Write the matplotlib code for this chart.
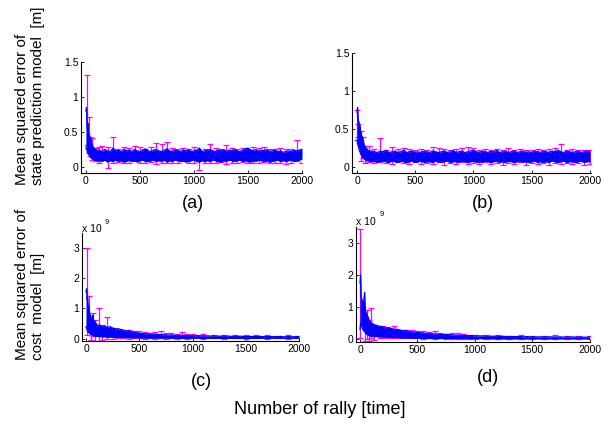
import numpy as np
import matplotlib
matplotlib.use("Agg")
import matplotlib.pyplot as plt

RALLY = np.concatenate([np.arange(0, 101, 5), np.arange(125, 2001, 25)])

# The blue mean curve is very noisy; at each sample position the lowest and
# highest value it reaches nearby are kept.  Magenta error bars are listed
# where they stick out of the blue band: rally, lower end, upper end.

# (a) state prediction model, setting 1  [m]
LO_A = [
    0.28, 0.25, 0.24, 0.20, 0.22, 0.18, 0.19, 0.15, 0.16, 0.13, 0.14,
    0.12, 0.12, 0.11, 0.11, 0.10, 0.10, 0.09, 0.10, 0.09, 0.09,
    0.09, 0.08, 0.10, 0.07, 0.09, 0.08, 0.10, 0.08, 0.09, 0.07,
    0.08, 0.10, 0.08, 0.09, 0.07, 0.09, 0.10, 0.08, 0.08, 0.09,
    0.10, 0.08, 0.09, 0.08, 0.10, 0.07, 0.09, 0.08, 0.10, 0.09,
    0.08, 0.09, 0.07, 0.08, 0.09, 0.10, 0.08, 0.07, 0.09, 0.08,
    0.09, 0.08, 0.10, 0.09, 0.08, 0.07, 0.09, 0.08, 0.10, 0.09,
    0.08, 0.09, 0.10, 0.08, 0.09, 0.08, 0.07, 0.09, 0.08, 0.10,
    0.09, 0.08, 0.09, 0.07, 0.08, 0.09, 0.10, 0.08, 0.09, 0.08,
    0.09, 0.10, 0.08, 0.09, 0.10, 0.11,
]
HI_A = [
    0.80, 0.85, 0.62, 0.50, 0.62, 0.42, 0.46, 0.36, 0.43, 0.32, 0.40,
    0.28, 0.33, 0.26, 0.28, 0.25, 0.27, 0.24, 0.25, 0.24, 0.24,
    0.24, 0.22, 0.25, 0.23, 0.22, 0.27, 0.23, 0.24, 0.22, 0.25,
    0.23, 0.24, 0.22, 0.25, 0.23, 0.22, 0.24, 0.26, 0.23, 0.22,
    0.24, 0.25, 0.23, 0.22, 0.24, 0.26, 0.23, 0.22, 0.25, 0.23,
    0.22, 0.24, 0.23, 0.25, 0.22, 0.23, 0.24, 0.27, 0.22, 0.23,
    0.24, 0.25, 0.23, 0.22, 0.24, 0.23, 0.25, 0.22, 0.24, 0.23,
    0.25, 0.23, 0.22, 0.24, 0.26, 0.27, 0.24, 0.23, 0.25, 0.22,
    0.24, 0.23, 0.25, 0.22, 0.23, 0.24, 0.22, 0.23, 0.21, 0.22,
    0.23, 0.22, 0.24, 0.23, 0.24, 0.25,
]
EB_X_A = [5, 25, 40, 60, 90, 125, 150, 200, 250, 300, 350, 400, 450, 500, 550,
          600, 650, 700, 750, 800, 850, 900, 950, 1000, 1050, 1100, 1150, 1200,
          1250, 1300, 1350, 1400, 1450, 1500, 1550, 1600, 1650, 1700, 1750,
          1800, 1850, 1900, 1950, 2000]
EB_LO_A = [0.32, 0.20, 0.15, 0.10, 0.08, 0.06, 0.10, -0.02, 0.05, 0.07, 0.06,
           0.05, 0.08, 0.05, 0.06, 0.07, 0.04, 0.05, 0.06, 0.05, 0.06, 0.08,
           0.05, 0.06, -0.05, 0.05, 0.06, 0.05, 0.07, 0.04, 0.06, 0.05, 0.07,
           0.05, 0.06, 0.05, 0.07, 0.05, 0.06, 0.05, 0.04, 0.06, 0.08, 0.06]
EB_HI_A = [1.31, 0.71, 0.43, 0.42, 0.27, 0.29, 0.30, 0.28, 0.43, 0.26, 0.28,
           0.27, 0.30, 0.29, 0.25, 0.28, 0.34, 0.33, 0.35, 0.27, 0.25, 0.27,
           0.26, 0.29, 0.22, 0.25, 0.33, 0.27, 0.25, 0.32, 0.27, 0.25, 0.27,
           0.26, 0.29, 0.27, 0.28, 0.26, 0.25, 0.27, 0.25, 0.26, 0.38, 0.25]

# (b) state prediction model, setting 2  [m]
LO_B = [
    0.35, 0.30, 0.28, 0.25, 0.22, 0.20, 0.18, 0.16, 0.15, 0.14, 0.12,
    0.12, 0.11, 0.10, 0.10, 0.09, 0.09, 0.08, 0.09, 0.08, 0.08,
    0.07, 0.08, 0.06, 0.07, 0.08, 0.07, 0.06, 0.08, 0.07, 0.06,
    0.08, 0.07, 0.06, 0.07, 0.08, 0.06, 0.07, 0.08, 0.06, 0.07,
    0.07, 0.06, 0.08, 0.07, 0.06, 0.07, 0.08, 0.06, 0.07, 0.07,
    0.06, 0.08, 0.07, 0.06, 0.07, 0.08, 0.06, 0.07, 0.06, 0.08,
    0.07, 0.06, 0.07, 0.08, 0.06, 0.07, 0.06, 0.08, 0.07, 0.06,
    0.07, 0.08, 0.06, 0.07, 0.06, 0.07, 0.08, 0.06, 0.07, 0.06,
    0.07, 0.06, 0.08, 0.07, 0.06, 0.07, 0.08, 0.06, 0.07, 0.07,
    0.06, 0.07, 0.08, 0.06, 0.07, 0.07,
]
HI_B = [
    0.72, 0.78, 0.62, 0.60, 0.55, 0.55, 0.48, 0.45, 0.40, 0.40, 0.35,
    0.34, 0.30, 0.28, 0.27, 0.26, 0.25, 0.24, 0.22, 0.22, 0.21,
    0.21, 0.20, 0.19, 0.21, 0.20, 0.22, 0.19, 0.20, 0.21, 0.19,
    0.20, 0.22, 0.19, 0.20, 0.21, 0.19, 0.20, 0.19, 0.21, 0.20,
    0.19, 0.21, 0.20, 0.19, 0.20, 0.21, 0.19, 0.20, 0.22, 0.19,
    0.20, 0.21, 0.19, 0.20, 0.21, 0.22, 0.20, 0.19, 0.21, 0.20,
    0.19, 0.21, 0.20, 0.22, 0.19, 0.20, 0.21, 0.19, 0.20, 0.21,
    0.19, 0.20, 0.21, 0.19, 0.20, 0.19, 0.21, 0.20, 0.19, 0.21,
    0.20, 0.19, 0.21, 0.20, 0.22, 0.20, 0.19, 0.21, 0.20, 0.19,
    0.20, 0.21, 0.19, 0.20, 0.21, 0.20,
]
EB_X_B = [0, 10, 30, 50, 70, 100, 150, 200, 250, 300, 350, 400, 450, 500, 550,
          600, 650, 700, 750, 800, 850, 900, 950, 1000, 1050, 1100, 1150, 1200,
          1250, 1300, 1350, 1400, 1450, 1500, 1550, 1600, 1650, 1700, 1750,
          1800, 1850, 1900, 1950, 2000]
EB_LO_B = [0.35, 0.40, 0.08, 0.12, 0.05, 0.07, 0.05, 0.06, 0.05, 0.04, 0.06,
           0.05, 0.04, 0.06, 0.04, 0.05, 0.04, 0.06, 0.03, 0.05, 0.04, 0.06,
           0.04, 0.05, 0.04, 0.06, 0.04, 0.05, 0.03, 0.05, 0.04, 0.06, 0.03,
           0.05, 0.04, 0.05, 0.03, 0.05, 0.04, 0.05, 0.04, 0.05, 0.03, 0.04]
EB_HI_B = [0.75, 0.56, 0.47, 0.40, 0.28, 0.28, 0.24, 0.38, 0.22, 0.26, 0.24,
           0.25, 0.24, 0.22, 0.24, 0.23, 0.26, 0.25, 0.24, 0.22, 0.24, 0.25,
           0.26, 0.25, 0.23, 0.24, 0.22, 0.24, 0.23, 0.25, 0.22, 0.24, 0.23,
           0.22, 0.24, 0.23, 0.24, 0.25, 0.30, 0.23, 0.24, 0.22, 0.23, 0.22]

# (c) cost model, setting 1  [x 1e9]
LO_C = [
    0.40, 0.35, 0.30, 0.25, 0.22, 0.20, 0.18, 0.16, 0.15, 0.14, 0.13,
    0.12, 0.11, 0.10, 0.10, 0.09, 0.09, 0.08, 0.08, 0.08, 0.07,
    0.07, 0.06, 0.06, 0.05, 0.05, 0.05, 0.04, 0.04, 0.04, 0.04,
    0.03, 0.03, 0.03, 0.03, 0.03, 0.03, 0.02, 0.02, 0.02, 0.02,
    0.02, 0.02, 0.02, 0.02, 0.02, 0.02, 0.02, 0.02, 0.02, 0.02,
    0.01, 0.02, 0.01, 0.02, 0.01, 0.02, 0.01, 0.02, 0.01, 0.01,
    0.01, 0.01, 0.01, 0.01, 0.01, 0.01, 0.01, 0.01, 0.01, 0.01,
    0.01, 0.01, 0.01, 0.01, 0.01, 0.01, 0.01, 0.01, 0.01, 0.01,
    0.01, 0.01, 0.01, 0.01, 0.01, 0.01, 0.01, 0.01, 0.01, 0.01,
    0.01, 0.01, 0.01, 0.01, 0.01, 0.01,
]
HI_C = [
    1.55, 1.65, 1.30, 1.35, 1.00, 1.10, 0.80, 0.85, 0.70, 0.75, 0.60,
    0.65, 0.55, 0.78, 0.50, 0.60, 0.48, 0.55, 0.45, 0.50, 0.45,
    0.45, 0.40, 0.42, 0.36, 0.40, 0.35, 0.32, 0.33, 0.30, 0.28,
    0.25, 0.27, 0.22, 0.21, 0.20, 0.18, 0.17, 0.17, 0.16, 0.15,
    0.15, 0.14, 0.14, 0.13, 0.13, 0.12, 0.12, 0.12, 0.11, 0.11,
    0.11, 0.10, 0.11, 0.10, 0.10, 0.10, 0.09, 0.10, 0.09, 0.09,
    0.09, 0.09, 0.08, 0.09, 0.08, 0.08, 0.08, 0.08, 0.08, 0.08,
    0.07, 0.08, 0.07, 0.08, 0.07, 0.07, 0.07, 0.07, 0.07, 0.07,
    0.07, 0.07, 0.06, 0.07, 0.07, 0.06, 0.07, 0.06, 0.07, 0.06,
    0.06, 0.07, 0.06, 0.06, 0.07, 0.06,
]
EB_X_C = [5, 25, 45, 65, 85, 125, 150, 200, 250, 300, 350, 400, 450, 500, 550,
          600, 650, 700, 750, 800, 850, 900, 950, 1000, 1100, 1200, 1300, 1400,
          1500, 1600, 1700, 1800, 1900, 2000]
EB_LO_C = [0.12, 0.30, -0.05, 0.10, -0.08, -0.10, -0.05, -0.03, 0.00, 0.02,
           0.01, 0.00, 0.02, 0.01, 0.00, 0.01, 0.00, 0.01, 0.00, 0.01, 0.00,
           0.01, 0.00, 0.01, 0.00, 0.01, 0.00, 0.01, 0.00, 0.01, 0.00, 0.01,
           0.00, 0.01]
EB_HI_C = [3.00, 1.40, 0.55, 0.85, 0.60, 1.02, 0.45, 0.72, 0.35, 0.30, 0.30,
           0.28, 0.25, 0.24, 0.22, 0.20, 0.22, 0.24, 0.18, 0.17, 0.16, 0.22,
           0.15, 0.14, 0.14, 0.13, 0.12, 0.12, 0.11, 0.11, 0.12, 0.10, 0.12,
           0.10]

# (d) cost model, setting 2  [x 1e9]
LO_D = [
    0.30, 0.50, 0.45, 0.40, 0.35, 0.30, 0.28, 0.25, 0.22, 0.20, 0.18,
    0.16, 0.15, 0.14, 0.13, 0.12, 0.11, 0.10, 0.10, 0.09, 0.09,
    0.08, 0.08, 0.07, 0.07, 0.06, 0.06, 0.05, 0.05, 0.05, 0.04,
    0.04, 0.04, 0.04, 0.03, 0.03, 0.03, 0.03, 0.03, 0.02, 0.02,
    0.02, 0.02, 0.02, 0.02, 0.02, 0.02, 0.02, 0.02, 0.02, 0.02,
    0.02, 0.02, 0.02, 0.02, 0.01, 0.02, 0.01, 0.02, 0.01, 0.02,
    0.01, 0.01, 0.01, 0.01, 0.01, 0.01, 0.01, 0.01, 0.01, 0.01,
    0.01, 0.01, 0.01, 0.01, 0.01, 0.01, 0.01, 0.01, 0.01, 0.01,
    0.01, 0.01, 0.01, 0.01, 0.01, 0.01, 0.01, 0.01, 0.01, 0.01,
    0.01, 0.01, 0.01, 0.01, 0.01, 0.01,
]
HI_D = [
    1.75, 2.00, 1.30, 1.25, 1.20, 1.10, 1.00, 1.30, 1.45, 0.95, 0.85,
    0.80, 0.80, 0.70, 0.70, 0.62, 0.60, 0.56, 0.55, 0.52, 0.50,
    0.45, 0.42, 0.40, 0.38, 0.35, 0.36, 0.33, 0.30, 0.31, 0.28,
    0.26, 0.27, 0.24, 0.23, 0.22, 0.21, 0.20, 0.19, 0.18, 0.18,
    0.17, 0.16, 0.16, 0.15, 0.14, 0.15, 0.14, 0.13, 0.13, 0.12,
    0.12, 0.12, 0.11, 0.11, 0.11, 0.10, 0.10, 0.10, 0.10, 0.09,
    0.09, 0.09, 0.09, 0.09, 0.08, 0.09, 0.08, 0.08, 0.08, 0.08,
    0.08, 0.08, 0.07, 0.08, 0.07, 0.08, 0.07, 0.07, 0.07, 0.07,
    0.07, 0.07, 0.07, 0.06, 0.07, 0.07, 0.06, 0.07, 0.06, 0.07,
    0.06, 0.06, 0.07, 0.06, 0.06, 0.07,
]
EB_X_D = [3, 40, 60, 80, 100, 125, 175, 200, 250, 300, 350, 400, 450, 500, 550,
          600, 650, 700, 750, 800, 850, 900, 950, 1000, 1100, 1200, 1300, 1400,
          1500, 1600, 1700, 1800, 1900, 2000]
EB_LO_D = [0.05, -0.05, 0.00, -0.05, 0.05, -0.03, 0.02, 0.05, 0.03, 0.05,
           0.03, 0.02, 0.03, 0.02, 0.01, 0.02, 0.01, 0.02, 0.01, 0.01, 0.00,
           0.01, 0.00, 0.01, 0.00, 0.01, 0.00, 0.01, 0.00, 0.01, 0.00, 0.01,
           0.00, 0.01]
EB_HI_D = [3.45, 0.55, 0.90, 0.60, 0.97, 0.45, 0.38, 0.42, 0.35, 0.42, 0.30,
           0.28, 0.28, 0.25, 0.24, 0.22, 0.26, 0.18, 0.17, 0.20, 0.18, 0.15,
           0.14, 0.14, 0.13, 0.12, 0.11, 0.12, 0.11, 0.11, 0.12, 0.10, 0.11,
           0.10]

X_TICKS = [0, 500, 1000, 1500, 2000]
STATE_TICKS = [0, 0.5, 1, 1.5]
STATE_TICKLABELS = ["0", "0.5", "1", "1.5"]
COST_TICKS = [0, 1, 2, 3]

BLUE = "#0000FF"
MAGENTA = "#FF00FF"

W, H = 614, 426
plt.rcParams.update({
    "font.family": ["Liberation Sans", "DejaVu Sans"],
    "font.size": 8,
})

fig = plt.figure(figsize=(W / 100, H / 100), dpi=100)


def px_axes(left, top, right, bottom):
    return fig.add_axes([left / W, (H - bottom) / H, (right - left) / W, (bottom - top) / H])


panels = [
    # box in px (left, top, right, bottom), band, error bars, limits, y ticks
    ((81, 62, 302, 173), LO_A, HI_A, EB_X_A, EB_LO_A, EB_HI_A,
     (-46, 2000), (-0.086, 1.5), STATE_TICKS, STATE_TICKLABELS),
    ((352, 53, 591, 173), LO_B, HI_B, EB_X_B, EB_LO_B, EB_HI_B,
     (-43, 2009), (-0.079, 1.5), STATE_TICKS, STATE_TICKLABELS),
    ((82, 233, 299, 341), LO_C, HI_C, EB_X_C, EB_LO_C, EB_HI_C,
     (-38, 2000), (-0.08, 3.5), COST_TICKS, None),
    ((356, 227, 590, 342), LO_D, HI_D, EB_X_D, EB_LO_D, EB_HI_D,
     (-35, 2004), (-0.09, 3.5), COST_TICKS, None),
]

for box, lo, hi, ebx, eblo, ebhi, xlim, ylim, yticks, ylabels in panels:
    ax = px_axes(*box)
    eblo = np.asarray(eblo)
    ebhi = np.asarray(ebhi)
    ax.errorbar(ebx, (eblo + ebhi) / 2, yerr=(ebhi - eblo) / 2, fmt="none",
                ecolor=MAGENTA, elinewidth=0.9, capsize=2.2, capthick=0.9, zorder=2)
    ax.fill_between(RALLY, lo, hi, color=BLUE, linewidth=0, zorder=3)
    ax.plot(RALLY, hi, color=BLUE, linewidth=0.9, zorder=3)
    ax.plot(RALLY, lo, color=BLUE, linewidth=0.9, zorder=3)
    ax.set_xlim(*xlim)
    ax.set_ylim(*ylim)
    ax.set_xticks(X_TICKS)
    ax.set_yticks(yticks)
    if ylabels is not None:
        ax.set_yticklabels(ylabels)
    ax.spines["top"].set_visible(False)
    ax.spines["right"].set_visible(False)
    ax.spines["left"].set_linewidth(0.8)
    ax.spines["bottom"].set_linewidth(0.8)
    ax.tick_params(direction="in", length=2, width=0.6, labelsize=7.5, pad=2)

# exponent marks for the cost panels
fig.text(82 / W, 1 - 229 / H, "x 10", fontsize=7.5, va="center", ha="left")
fig.text(105 / W, 1 - 222 / H, "9", fontsize=5.5, va="center", ha="left")
fig.text(356 / W, 1 - 222 / H, "x 10", fontsize=7.5, va="center", ha="left")
fig.text(380 / W, 1 - 215 / H, "9", fontsize=5.5, va="center", ha="left")

# panel letters
fig.text(193 / W, 1 - 203 / H, "(a)", fontsize=13, ha="center", va="center")
fig.text(483 / W, 1 - 203 / H, "(b)", fontsize=13, ha="center", va="center")
fig.text(201 / W, 1 - 381 / H, "(c)", fontsize=13, ha="center", va="center")
fig.text(488 / W, 1 - 377 / H, "(d)", fontsize=13, ha="center", va="center")

fig.text(320 / W, 1 - 410 / H, "Number of rally [time]", fontsize=13, ha="center", va="center")

fig.text(30 / W, 1 - 185 / H, "Mean squared error of\nstate prediction model  [m]",
         rotation=90, fontsize=11, ha="center", va="bottom", multialignment="left",
         linespacing=1.25)
fig.text(30 / W, 1 - 360 / H, "Mean squared error of\ncost  model  [m]",
         rotation=90, fontsize=11, ha="center", va="bottom", multialignment="left",
         linespacing=1.25)

fig.savefig("out.png", dpi=100)
